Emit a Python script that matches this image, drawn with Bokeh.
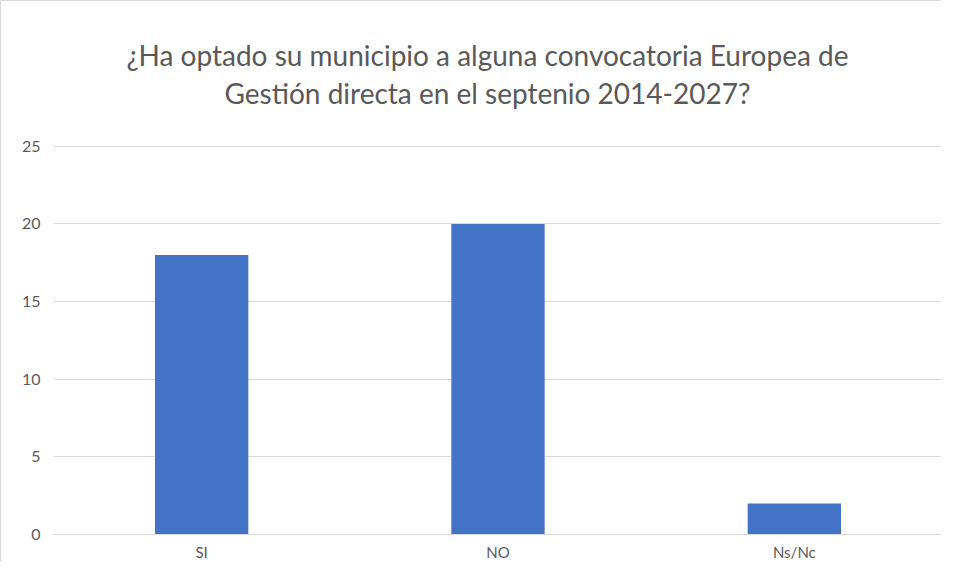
from bokeh.plotting import figure
from bokeh.models import FactorRange, Range1d, FixedTicker, Label
from bokeh.embed import file_html
from bokeh.resources import INLINE

categories = ["SI", "NO", "Ns/Nc"]
values = [18, 20, 2]
y_ticks = [0, 5, 10, 15, 20, 25]
title_lines = ["¿Ha optado su municipio a alguna convocatoria Europea de",
               "Gestión directa en el septenio 2014-2027?"]

FONT = "Lato"
GRAY = "#595959"

# the frame runs up to the top of the canvas so that the two title lines
# (drawn as screen-unit labels) sit inside it; only ticks 0..25 are drawn
p = figure(width=941, height=562, output_backend="svg", toolbar_location=None,
           x_range=FactorRange(*categories, range_padding=0),
           y_range=Range1d(0, 34.32),
           min_border_left=52, min_border_right=0, min_border_top=0, min_border_bottom=24)
p.styles = {"border-left": "1px solid #d9d9d9", "border-top": "1px solid #d9d9d9"}

p.vbar(x=categories, top=values, width=0.315, color="#4472C4", line_color=None)

p.outline_line_color = None
p.xgrid.grid_line_color = None
p.ygrid.grid_line_color = "#d9d9d9"
p.ygrid.grid_line_width = 1

p.yaxis.ticker = FixedTicker(ticks=y_ticks)
p.yaxis.axis_line_color = None
p.yaxis.major_tick_line_color = None
p.yaxis.minor_tick_line_color = None
p.yaxis.major_label_standoff = 7
p.yaxis.major_label_text_font = FONT
p.yaxis.major_label_text_font_size = "16px"
p.yaxis.major_label_text_color = GRAY

p.xaxis.axis_line_color = "#d9d9d9"
p.xaxis.axis_line_width = 1
p.xaxis.major_tick_line_color = None
p.xaxis.minor_tick_line_color = None
p.xaxis.major_label_standoff = 2
p.xaxis.major_label_text_font = FONT
p.xaxis.major_label_text_font_size = "15px"
p.xaxis.major_label_text_color = GRAY

for i, line in enumerate(title_lines):
    p.add_layout(Label(x=434, y=480 - 38 * i, x_units="screen", y_units="screen",
                       text=line, text_align="center", text_baseline="middle",
                       text_font=FONT, text_font_size="28px", text_color=GRAY))

open("out.html", "w").write(file_html(p, INLINE))
